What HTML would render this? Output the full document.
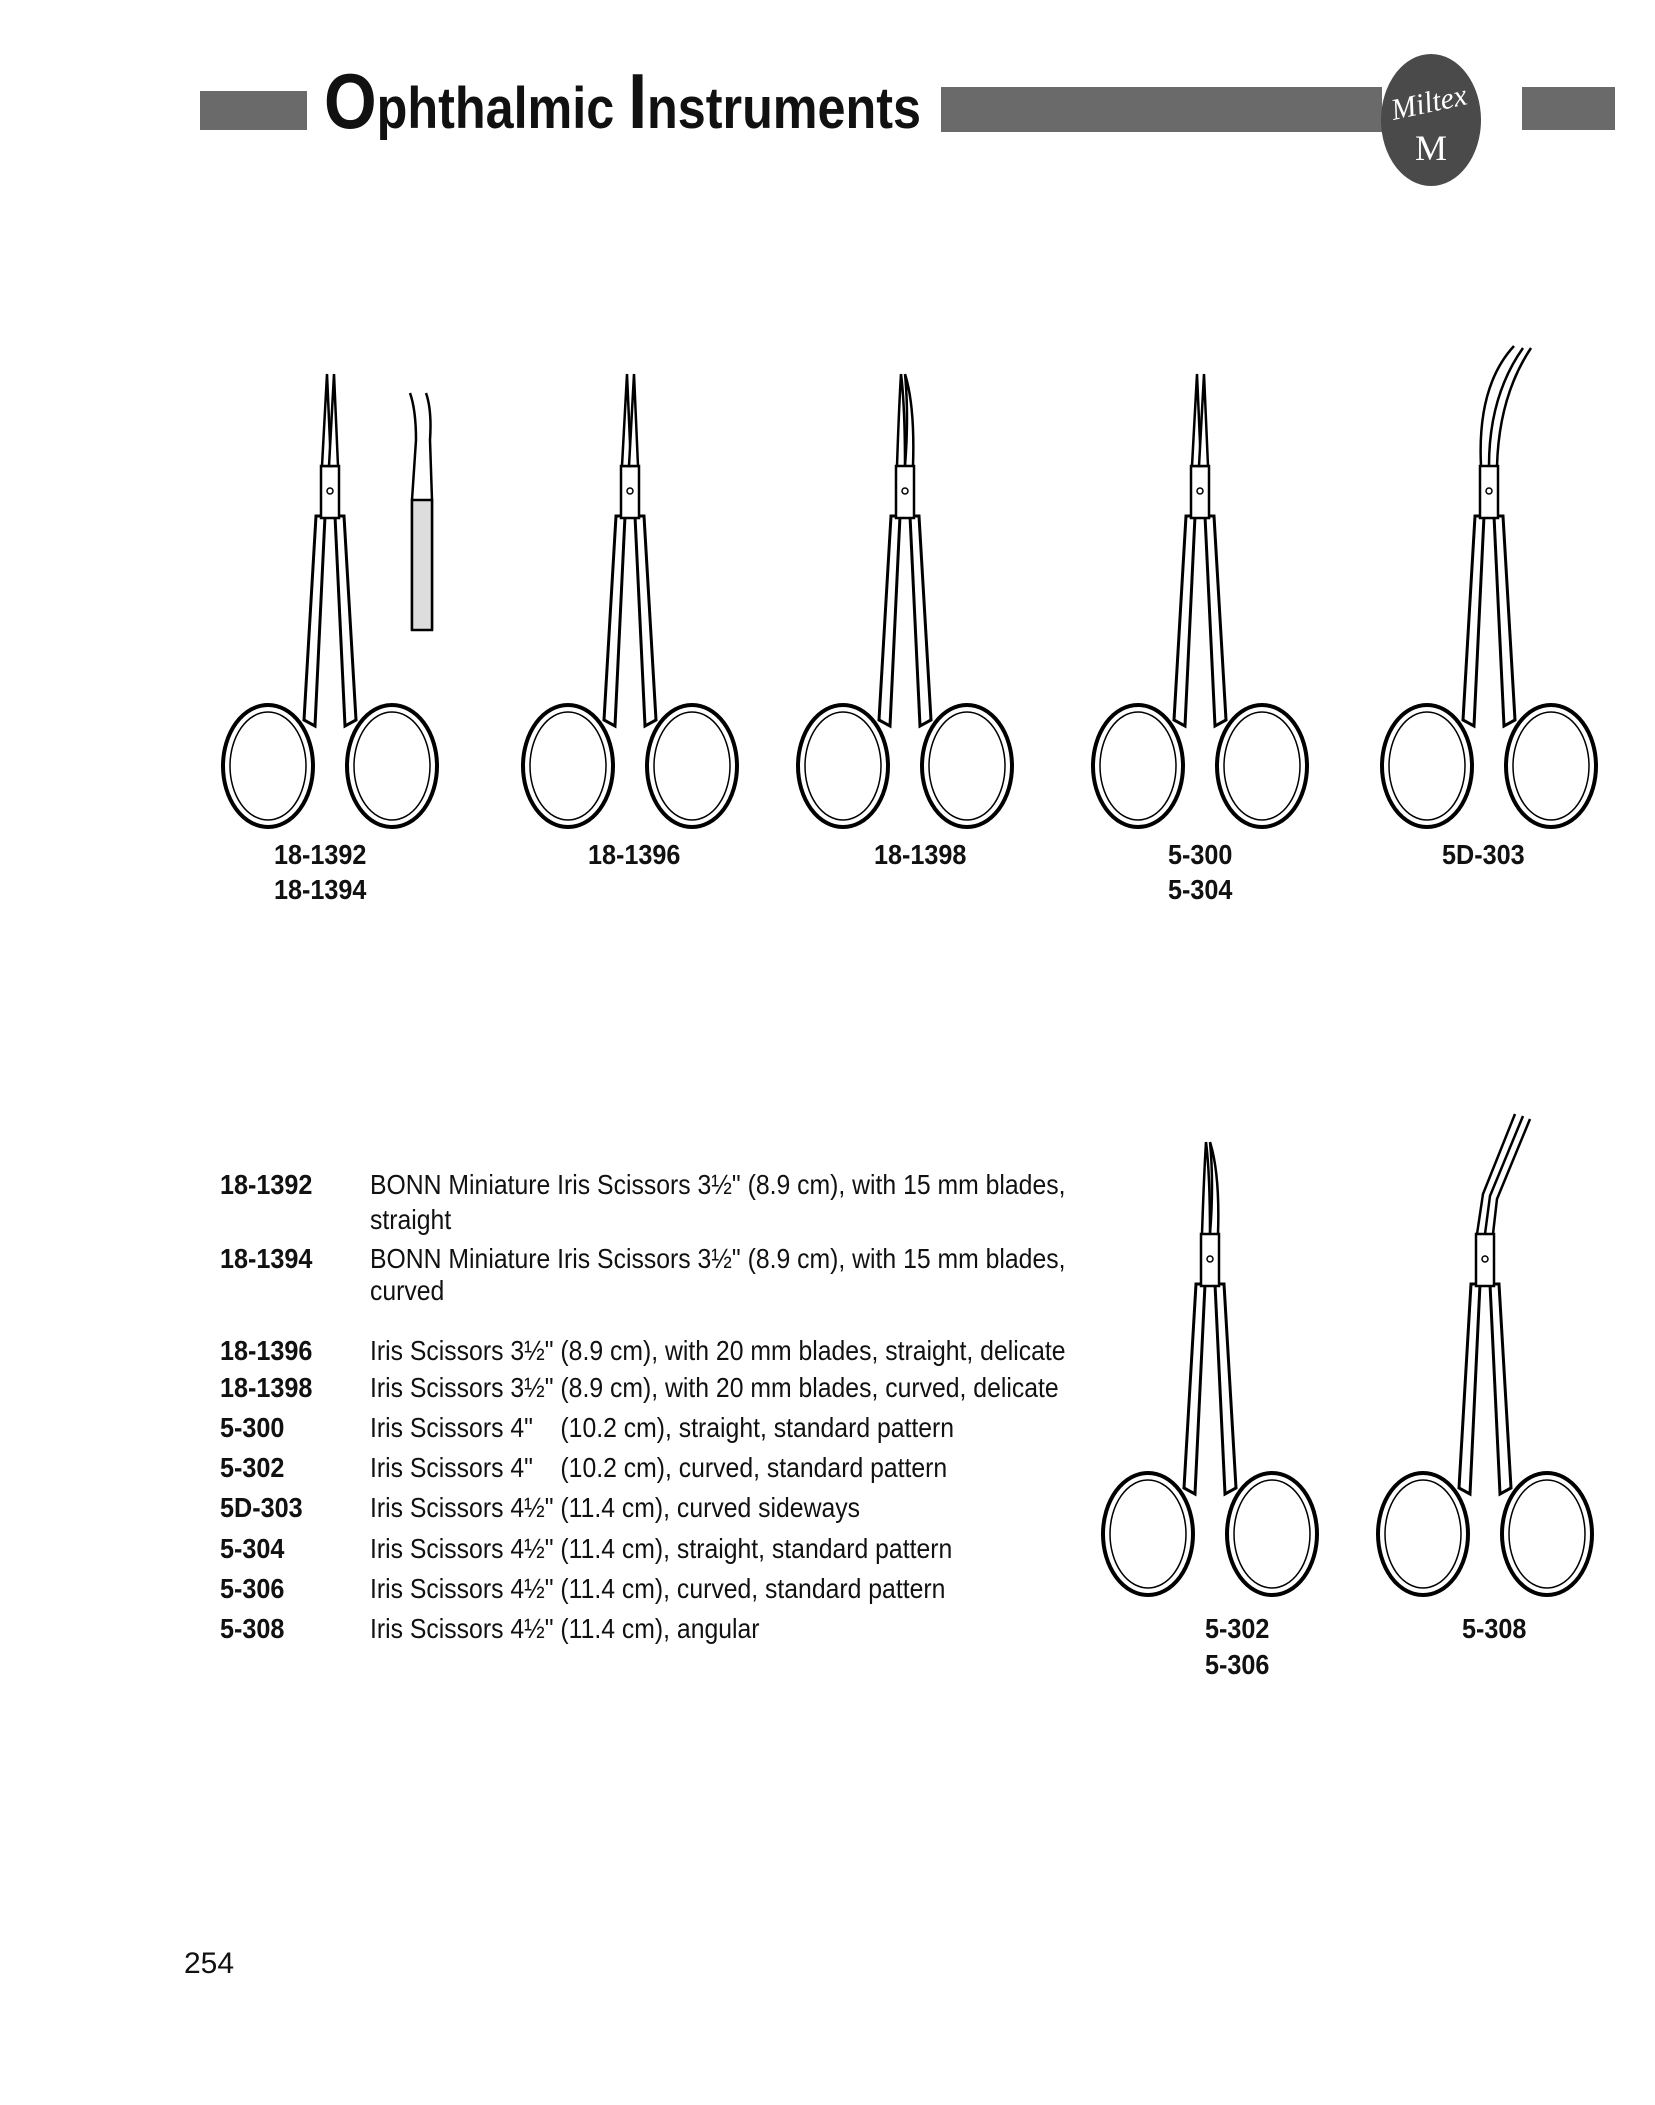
<!DOCTYPE html>
<html><head><meta charset="utf-8">
<style>
html,body{margin:0;padding:0;background:#fff;}
svg{display:block;}
</style></head>
<body>
<svg width="1655" height="2105" viewBox="0 0 1655 2105" xmlns="http://www.w3.org/2000/svg">
<defs>
  <g id="rings" fill="none" stroke="#000">
    <ellipse cx="-62" cy="0" rx="45" ry="61" stroke-width="4"/>
    <ellipse cx="-62" cy="0" rx="38" ry="54" stroke-width="1.5"/>
    <ellipse cx="62" cy="0" rx="45" ry="61" stroke-width="4"/>
    <ellipse cx="62" cy="0" rx="38" ry="54" stroke-width="1.5"/>
    <polygon points="-26,-46 -14,-250 -5,-250 -15,-40" fill="#fff" stroke-width="3"/>
    <polygon points="26,-46 14,-250 5,-250 15,-40" fill="#fff" stroke-width="3"/>
    <rect x="-9" y="-300" width="18" height="52" fill="#fff" stroke-width="2.5"/>
    <circle cx="0" cy="-275" r="3" stroke-width="1.5"/>
  </g>
  <g id="bladeS" fill="#fff" stroke="#000" stroke-width="2.5">
    <polygon points="-8,-300 -3,-392 1,-300"/>
    <polygon points="8,-300 4,-392 -1,-300"/>
  </g>
  <g id="bladeC" fill="none" stroke="#000" stroke-width="2.5">
    <path d="M-8,-300 Q-6,-360 -4,-392 M0,-300 Q0,-360 -4,-392"/>
    <path d="M8,-300 Q10,-360 0,-392 M0,-300 Q4,-350 0,-392"/>
  </g>
</defs>

<!-- Header -->
<rect x="200" y="91" width="107" height="39" fill="#6a6a6a"/>
<text x="324" y="128" font-family="Liberation Sans, sans-serif" font-weight="bold" font-size="58" textLength="597" lengthAdjust="spacingAndGlyphs" fill="#111"><tspan font-size="78">O</tspan>phthalmic <tspan font-size="78">I</tspan>nstruments</text>
<rect x="941" y="87" width="441" height="45" fill="#6a6a6a"/>
<ellipse cx="1431" cy="120" rx="50" ry="66" fill="#4a4a4a"/>
<text x="1431" y="112" text-anchor="middle" font-family="Liberation Serif, serif" font-style="italic" font-size="30" fill="#fff" transform="rotate(-12 1431 112)">Miltex</text>
<text x="1431" y="160" text-anchor="middle" font-family="Liberation Serif, serif" font-size="36" fill="#fff">M</text>
<rect x="1522" y="87" width="93" height="43" fill="#6a6a6a"/>

<!-- Top scissors -->
<g transform="translate(330,766)"><use href="#rings"/><use href="#bladeS"/></g>
<g transform="translate(422,0)" fill="#fff" stroke="#000" stroke-width="2.5">
  <path d="M-10,630 L-10,500 L-6,440 Q-6,410 -12,393 M10,630 L10,500 L8,440 Q10,410 4,393"/>
  <rect x="-10" y="500" width="20" height="130" fill="#ddd"/>
</g>
<g transform="translate(630,766)"><use href="#rings"/><use href="#bladeS"/></g>
<g transform="translate(905,766)"><use href="#rings"/><use href="#bladeC"/></g>
<g transform="translate(1200,766)"><use href="#rings"/><use href="#bladeS"/></g>
<g transform="translate(1489,766)"><use href="#rings"/>
  <path d="M-8,-300 Q-12,-380 25,-420 M8,-300 Q10,-370 42,-418 M0,-300 Q0,-370 34,-418" fill="none" stroke="#000" stroke-width="2.5"/>
</g>

<!-- Top labels -->
<g font-family="Liberation Sans, sans-serif" font-weight="bold" font-size="28" fill="#111">
  <text transform="translate(274,864) scale(0.9,1)">18-1392</text>
  <text transform="translate(274,899) scale(0.9,1)">18-1394</text>
  <text transform="translate(588,864) scale(0.9,1)">18-1396</text>
  <text transform="translate(874,864) scale(0.9,1)">18-1398</text>
  <text transform="translate(1168,864) scale(0.9,1)">5-300</text>
  <text transform="translate(1168,899) scale(0.9,1)">5-304</text>
  <text transform="translate(1442,864) scale(0.9,1)">5D-303</text>
</g>

<!-- Bottom scissors -->
<g transform="translate(1210,1534)"><use href="#rings"/><use href="#bladeC"/></g>
<g transform="translate(1485,1534)"><use href="#rings"/>
  <path d="M-8,-300 L-2,-340 L30,-420 M8,-300 L12,-335 L45,-415 M0,-300 L5,-338 L38,-418" fill="none" stroke="#000" stroke-width="2.5"/>
</g>
<g font-family="Liberation Sans, sans-serif" font-weight="bold" font-size="28" fill="#111">
  <text transform="translate(1205,1638) scale(0.9,1)">5-302</text>
  <text transform="translate(1205,1674) scale(0.9,1)">5-306</text>
  <text transform="translate(1462,1638) scale(0.9,1)">5-308</text>
</g>

<!-- Description table -->
<g font-family="Liberation Sans, sans-serif" font-weight="bold" font-size="28" fill="#111">
  <text transform="translate(220,1194) scale(0.9,1)">18-1392</text>
  <text transform="translate(220,1268) scale(0.9,1)">18-1394</text>
  <text transform="translate(220,1360) scale(0.9,1)">18-1396</text>
  <text transform="translate(220,1397) scale(0.9,1)">18-1398</text>
  <text transform="translate(220,1437) scale(0.9,1)">5-300</text>
  <text transform="translate(220,1477) scale(0.9,1)">5-302</text>
  <text transform="translate(220,1517) scale(0.9,1)">5D-303</text>
  <text transform="translate(220,1558) scale(0.9,1)">5-304</text>
  <text transform="translate(220,1598) scale(0.9,1)">5-306</text>
  <text transform="translate(220,1638) scale(0.9,1)">5-308</text>
</g>
<g font-family="Liberation Sans, sans-serif" font-size="28" fill="#111">
  <text transform="translate(370,1194) scale(0.885,1)">BONN Miniature Iris Scissors 3½" (8.9 cm), with 15 mm blades,</text>
  <text transform="translate(370,1229) scale(0.885,1)">straight</text>
  <text transform="translate(370,1268) scale(0.885,1)">BONN Miniature Iris Scissors 3½" (8.9 cm), with 15 mm blades,</text>
  <text transform="translate(370,1300) scale(0.885,1)">curved</text>
  <text transform="translate(370,1360) scale(0.885,1)">Iris Scissors 3½" (8.9 cm), with 20 mm blades, straight, delicate</text>
  <text transform="translate(370,1397) scale(0.885,1)">Iris Scissors 3½" (8.9 cm), with 20 mm blades, curved, delicate</text>
  <text transform="translate(370,1437) scale(0.885,1)" xml:space="preserve">Iris Scissors 4"    (10.2 cm), straight, standard pattern</text>
  <text transform="translate(370,1477) scale(0.885,1)" xml:space="preserve">Iris Scissors 4"    (10.2 cm), curved, standard pattern</text>
  <text transform="translate(370,1517) scale(0.885,1)">Iris Scissors 4½" (11.4 cm), curved sideways</text>
  <text transform="translate(370,1558) scale(0.885,1)">Iris Scissors 4½" (11.4 cm), straight, standard pattern</text>
  <text transform="translate(370,1598) scale(0.885,1)">Iris Scissors 4½" (11.4 cm), curved, standard pattern</text>
  <text transform="translate(370,1638) scale(0.885,1)">Iris Scissors 4½" (11.4 cm), angular</text>
</g>

<text x="184" y="1973" font-family="Liberation Sans, sans-serif" font-size="30" fill="#111">254</text>
</svg>
</body></html>
